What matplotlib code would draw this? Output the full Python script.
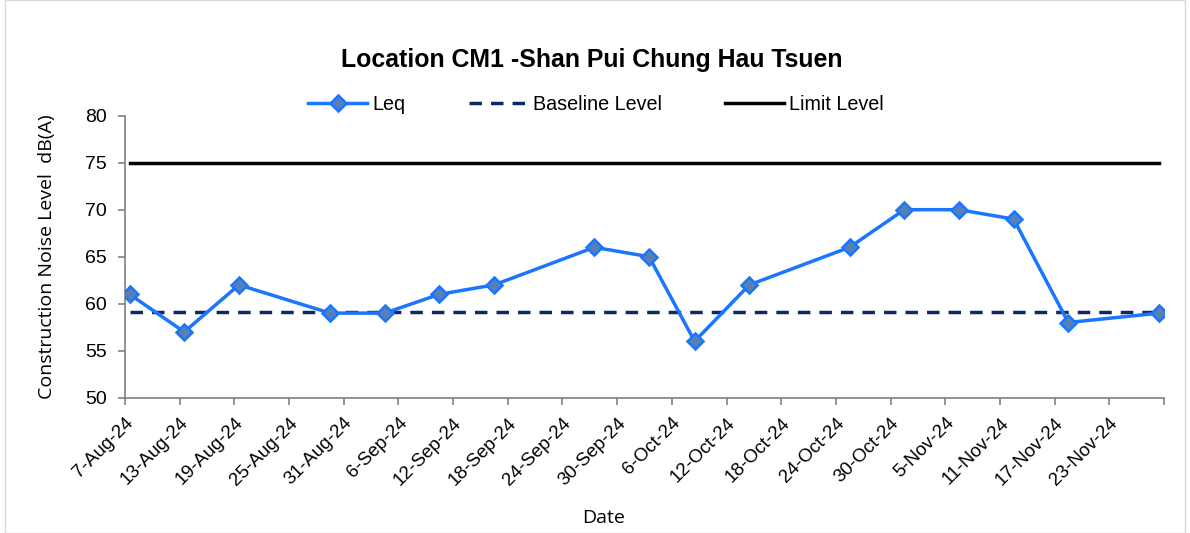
import numpy as np
import pandas as pd
import matplotlib
matplotlib.use("Agg")
import matplotlib.pyplot as plt
import matplotlib.dates as mdates
from matplotlib.patches import Rectangle

# --- data ---
dates = pd.to_datetime([
    "2024-08-07", "2024-08-13", "2024-08-19", "2024-08-29", "2024-09-04",
    "2024-09-10", "2024-09-16", "2024-09-27", "2024-10-03", "2024-10-08",
    "2024-10-14", "2024-10-25", "2024-10-31", "2024-11-06", "2024-11-12",
    "2024-11-18", "2024-11-28",
])
leq = [61, 57, 62, 59, 59, 61, 62, 66, 65, 56, 62, 66, 70, 70, 69, 58, 59]
baseline = [59.1] * len(leq)
limit = [75] * len(leq)

x_start = pd.Timestamp("2024-08-07")
x_end = pd.Timestamp("2024-11-29")
tick_dates = pd.date_range(x_start, pd.Timestamp("2024-11-23"), freq="6D")
y_ticks = [50, 55, 60, 65, 70, 75, 80]

plt.rcParams['font.family'] = ['Liberation Sans', 'DejaVu Sans']

fig = plt.figure(figsize=(11.9, 5.33), dpi=100)
ax = fig.add_axes([125 / 1190, 1 - 397.7 / 533, (1164 - 125) / 1190, (397.7 - 115.7) / 533])

# frame round the whole chart
fig.patches.append(Rectangle((5 / 1190, 0.0), 1180 / 1190, 1.0, transform=fig.transFigure,
                             fill=False, edgecolor='#d9d9d9', linewidth=1.0))

# Excel date axis puts points in the middle of the day
xpts = dates + pd.Timedelta(hours=12)

ax.plot(xpts, limit, color='black', linewidth=2.5, label='Limit Level', zorder=2)
ax.plot(xpts, baseline, color='#0d2a66', linewidth=2.5, linestyle=(0, (3.6, 2.6)),
        label='Baseline Level', zorder=2)
ax.plot(xpts, leq, color='#1a75ff', linewidth=2.5, marker='D', markersize=8,
        markerfacecolor='#5580b8', markeredgecolor='#1a75ff', markeredgewidth=1.8,
        label='Leq', zorder=3)

ax.set_xlim(x_start, x_end)
ax.set_ylim(50, 80)
ax.set_yticks(y_ticks)
ax.set_xticks(list(tick_dates) + [x_end])
ax.set_xticklabels([f"{d.day}-{d.strftime('%b')}-{d.strftime('%y')}" for d in tick_dates] + [""],
                   rotation=45, ha='right', rotation_mode='anchor', fontsize=13.5)
ax.tick_params(axis='y', labelsize=14, pad=8)
ax.tick_params(axis='both', direction='out', length=5, color='#808080', width=1.2)
ax.tick_params(axis='x', pad=7)

for side in ['top', 'right']:
    ax.spines[side].set_visible(False)
for side in ['left', 'bottom']:
    ax.spines[side].set_color('#808080')
    ax.spines[side].set_linewidth(1.2)

ax.set_ylabel("Construction Noise Level  dB(A)", fontsize=14, family=['Open Sans', 'DejaVu Sans'])
ax.yaxis.set_label_coords(-0.066, 0.5)
ax.set_xlabel("Date", fontsize=14, family=['Open Sans', 'DejaVu Sans'])
ax.xaxis.set_label_coords(0.461, -0.395)

fig.text(592 / 1190, 1 - 60 / 533, "Location CM1 -Shan Pui Chung Hau Tsuen",
         ha='center', va='center', fontsize=17.9, fontweight='bold')

handles, labels = ax.get_legend_handles_labels()
order = [2, 1, 0]
fig.legend([handles[i] for i in order], [labels[i] for i in order],
           loc='center', bbox_to_anchor=(596 / 1190, 1 - 104 / 533), ncol=3,
           frameon=False, fontsize=14.2, handlelength=3.0, columnspacing=3.2,
           handletextpad=0.25)

fig.savefig("out.png", dpi=100)
